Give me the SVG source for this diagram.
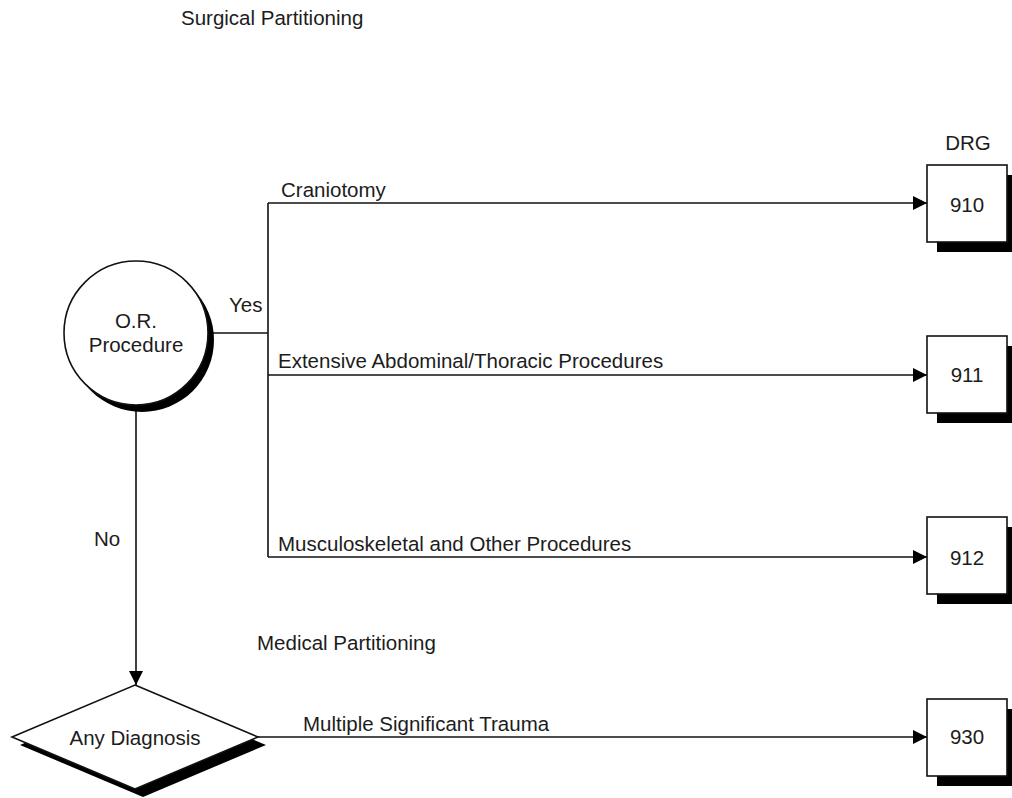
<svg xmlns="http://www.w3.org/2000/svg" width="1012" height="798" viewBox="0 0 1012 798">
  <style>
    text { font-family: "Liberation Sans", Arial, sans-serif; font-size: 20.5px; fill: #1c1c1c; }
    .mid { text-anchor: middle; }
    .edge { fill: none; stroke: #111; stroke-width: 1.6; }
    .shape { fill: #fff; stroke: #111; stroke-width: 1.6; }
    .shadow { fill: #000; }
  </style>
  <defs>
    <marker id="arrow" markerWidth="14" markerHeight="14" refX="14" refY="7" orient="auto" markerUnits="userSpaceOnUse">
      <path d="M0,0 L14,7 L0,14 Z" fill="#000"/>
    </marker>
  </defs>

  <rect width="1012" height="798" fill="#fff"/>

  <!-- section headings -->
  <text x="181" y="25">Surgical Partitioning</text>
  <text x="257" y="650">Medical Partitioning</text>
  <text x="968" y="150" class="mid">DRG</text>

  <!-- connectors -->
  <g id="connectors">
    <path class="edge" d="M209,333 H268"/>
    <path class="edge" d="M268,203 V557"/>
    <path class="edge" d="M268,203 H927" marker-end="url(#arrow)"/>
    <path class="edge" d="M268,375 H927" marker-end="url(#arrow)"/>
    <path class="edge" d="M268,557 H927" marker-end="url(#arrow)"/>
    <path class="edge" d="M136,405 V685" marker-end="url(#arrow)"/>
    <path class="edge" d="M258,737 H927" marker-end="url(#arrow)"/>
    <text x="229" y="312">Yes</text>
    <text x="94" y="546">No</text>
    <text x="281" y="197">Craniotomy</text>
    <text x="278" y="368">Extensive Abdominal/Thoracic Procedures</text>
    <text x="278" y="551">Musculoskeletal and Other Procedures</text>
    <text x="303" y="731">Multiple Significant Trauma</text>
  </g>

  <!-- decision: O.R. procedure -->
  <g id="or-procedure">
    <circle class="shadow" cx="142" cy="340" r="72"/>
    <circle class="shape" cx="136" cy="333" r="72"/>
    <text x="136" y="328" class="mid">O.R.</text>
    <text x="136" y="352" class="mid">Procedure</text>
  </g>

  <!-- decision: any diagnosis -->
  <g id="any-diagnosis">
    <polygon class="shadow" points="143,693 266,745 143,797 20,745"/>
    <polygon class="shape" points="135,685 258,737 135,789 12,737"/>
    <text x="135" y="745" class="mid">Any Diagnosis</text>
  </g>

  <!-- DRG result boxes -->
  <g id="drg-910">
    <rect class="shadow" x="937" y="175" width="80" height="77"/>
    <rect class="shape" x="927" y="165" width="80" height="77"/>
    <text x="967" y="212" class="mid">910</text>
  </g>
  <g id="drg-911">
    <rect class="shadow" x="937" y="346" width="80" height="77"/>
    <rect class="shape" x="927" y="336" width="80" height="77"/>
    <text x="967" y="382" class="mid">911</text>
  </g>
  <g id="drg-912">
    <rect class="shadow" x="937" y="527" width="80" height="77"/>
    <rect class="shape" x="927" y="517" width="80" height="77"/>
    <text x="967" y="565" class="mid">912</text>
  </g>
  <g id="drg-930">
    <rect class="shadow" x="937" y="709" width="80" height="77"/>
    <rect class="shape" x="927" y="699" width="80" height="77"/>
    <text x="967" y="744" class="mid">930</text>
  </g>
</svg>
